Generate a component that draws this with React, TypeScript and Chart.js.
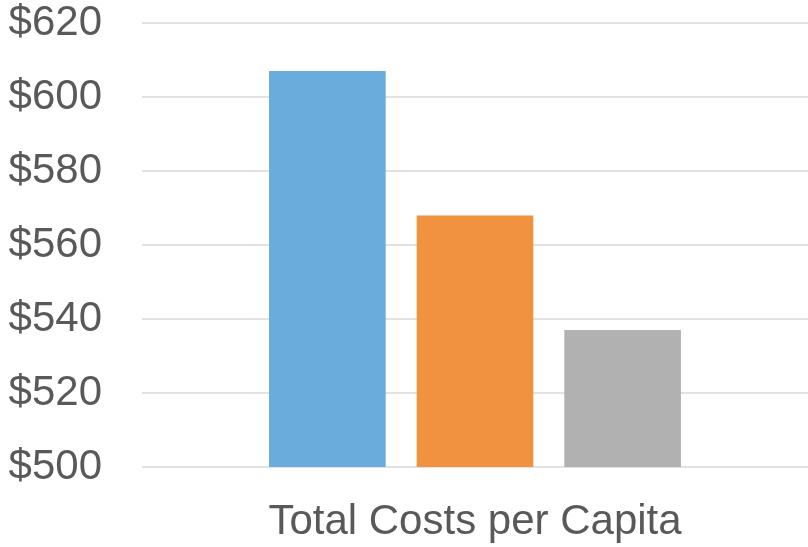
import React, { useEffect, useRef } from "react";
import { Chart, registerables } from "chart.js";

Chart.register(...registerables);

const categories = ["Total Costs per Capita"];
const seriesNames = ["Series A", "Series B", "Series C"];
const seriesValues = [[607], [568], [537]];
const seriesColors = ["#6AACDC", "#F09240", "#B1B1B1"];
const yMin = 500;
const yMax = 620;
const yStep = 20;

export default function App() {
  const ref = useRef<HTMLCanvasElement | null>(null);
  useEffect(() => {
    if (!ref.current) return;
    const font = "Liberation Sans, Arial, sans-serif";
    const chart = new Chart(ref.current, {
      type: "bar",
      data: {
        labels: categories,
        datasets: seriesNames.map((name, i) => ({
          label: name,
          data: seriesValues[i],
          backgroundColor: seriesColors[i],
          borderWidth: 0,
          barPercentage: 0.79,
          categoryPercentage: 0.665,
        })),
      },
      options: {
        animation: false,
        responsive: false,
        maintainAspectRatio: false,
        layout: { padding: { top: 23, right: -6, left: 0, bottom: 0 } },
        plugins: { legend: { display: false }, tooltip: { enabled: false } },
        scales: {
          x: {
            grid: { display: false, drawTicks: false },
            border: { display: false },
            ticks: {
              color: "#595959",
              font: { family: font, size: 42 },
              padding: 30,
            },
            afterFit: (s: any) => {
              s.height = 80;
              s.paddingLeft = 0;
              s.paddingRight = 0;
            },
          },
          y: {
            min: yMin,
            max: yMax,
            grid: { color: "#e2e2e2", lineWidth: 2, drawTicks: false },
            border: { display: false },
            ticks: {
              stepSize: yStep,
              color: "#595959",
              font: { family: font, size: 42 },
              padding: 40,
              callback: (v: any) => "$" + v,
            },
            afterFit: (s: any) => {
              s.width = 142;
              s.paddingTop = 0;
              s.paddingBottom = 0;
            },
          },
        },
      },
    });
    return () => chart.destroy();
  }, []);
  return (
    <div style={{ position: "fixed", left: 0, top: 0, width: 808, height: 547, background: "#fff" }}>
      <canvas ref={ref} width={808} height={547} style={{ display: "block" }} />
    </div>
  );
}
